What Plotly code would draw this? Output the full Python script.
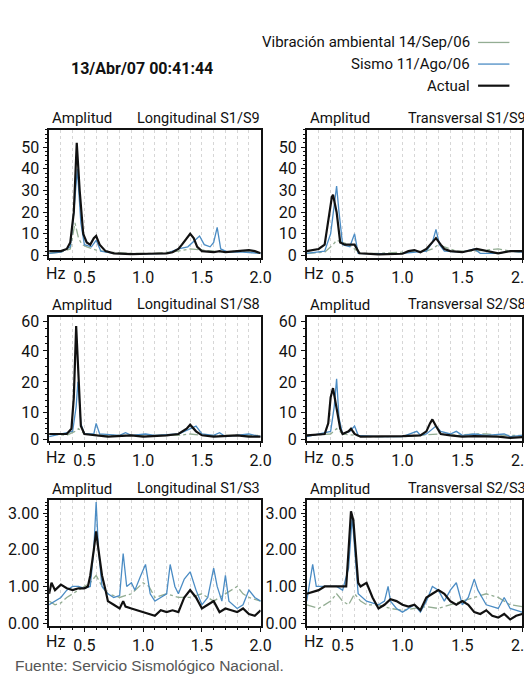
import numpy as np
import plotly.graph_objects as go

W, H = 532, 685

# ---------------- data (frequency Hz, amplitude) ----------------
# Panel: Longitudinal S1/S9
l19_amb_f = [0.20, 0.30, 0.38, 0.42, 0.45, 0.48, 0.52, 0.60, 0.70, 0.90, 1.10, 1.30, 1.40, 1.48, 1.60, 1.70, 1.80, 1.90, 2.00]
l19_amb_a = [1.0, 1.5, 3.0, 15.0, 8.0, 5.0, 4.0, 2.5, 1.5, 1.0, 1.0, 2.0, 3.0, 2.5, 2.0, 1.5, 2.0, 1.5, 1.0]
l19_sis_f = [0.20, 0.30, 0.38, 0.41, 0.44, 0.47, 0.50, 0.56, 0.60, 0.64, 0.75, 1.00, 1.20, 1.30, 1.38, 1.44, 1.48, 1.52, 1.57, 1.60, 1.63, 1.66, 1.72, 1.85, 2.00]
l19_sis_a = [1.0, 1.5, 4.0, 20.0, 40.0, 15.0, 5.0, 4.0, 7.0, 2.0, 1.0, 0.8, 1.0, 3.0, 4.0, 7.0, 9.0, 5.0, 4.0, 6.0, 13.0, 3.0, 1.5, 1.5, 1.0]
l19_act_f = [0.20, 0.30, 0.35, 0.38, 0.41, 0.435, 0.46, 0.49, 0.52, 0.55, 0.58, 0.60, 0.63, 0.68, 0.75, 0.90, 1.05, 1.20, 1.25, 1.30, 1.33, 1.37, 1.40, 1.43, 1.46, 1.50, 1.60, 1.65, 1.70, 1.80, 1.90, 1.95, 2.00]
l19_act_a = [2.0, 2.0, 3.0, 6.0, 20.0, 52.0, 30.0, 10.0, 6.0, 5.0, 8.0, 9.0, 5.0, 2.0, 1.0, 0.6, 0.8, 1.0, 1.5, 3.0, 5.0, 8.0, 10.0, 8.0, 4.0, 2.0, 1.5, 2.0, 1.5, 2.0, 2.5, 2.0, 1.0]

# Panel: Transversal S1/S9
t19_amb_f = [0.20, 0.35, 0.42, 0.45, 0.50, 0.55, 0.65, 0.80, 1.00, 1.20, 1.25, 1.30, 1.35, 1.45, 1.60, 1.80, 1.90, 2.00]
t19_amb_a = [1.0, 1.5, 5.0, 7.0, 6.0, 5.0, 1.0, 1.0, 1.5, 2.0, 3.0, 5.0, 4.0, 2.0, 2.0, 3.0, 2.0, 1.5]
t19_sis_f = [0.20, 0.35, 0.40, 0.43, 0.45, 0.47, 0.50, 0.56, 0.60, 0.63, 0.80, 1.00, 1.20, 1.25, 1.28, 1.31, 1.35, 1.50, 1.60, 1.65, 1.80, 1.90, 2.00]
t19_sis_a = [1.0, 2.0, 10.0, 25.0, 32.0, 20.0, 5.0, 4.0, 10.0, 1.0, 0.8, 1.0, 2.0, 6.0, 12.0, 5.0, 2.0, 1.5, 3.0, 1.0, 1.0, 2.0, 1.5]
t19_act_f = [0.20, 0.30, 0.35, 0.38, 0.41, 0.42, 0.45, 0.48, 0.52, 0.58, 0.60, 0.64, 0.80, 1.00, 1.05, 1.10, 1.15, 1.20, 1.25, 1.28, 1.32, 1.35, 1.40, 1.50, 1.62, 1.70, 1.80, 1.90, 2.00]
t19_act_a = [2.0, 3.0, 5.0, 15.0, 27.0, 28.0, 20.0, 6.0, 5.0, 5.0, 5.0, 1.0, 0.5, 0.8, 2.0, 2.5, 1.5, 3.0, 6.0, 8.0, 5.0, 3.0, 2.0, 1.5, 3.0, 2.0, 1.0, 2.0, 2.0]

# Panel: Longitudinal S1/S8
l18_amb_f = [0.20, 0.35, 0.42, 0.45, 0.50, 0.70, 0.90, 1.10, 1.30, 1.40, 1.50, 1.70, 1.90, 2.00]
l18_amb_a = [2.0, 1.5, 3.0, 4.0, 2.0, 1.5, 1.5, 1.5, 1.5, 2.0, 1.5, 1.5, 1.5, 1.5]
l18_sis_f = [0.20, 0.40, 0.43, 0.445, 0.47, 0.50, 0.58, 0.60, 0.63, 0.80, 0.85, 0.90, 1.02, 1.10, 1.30, 1.40, 1.45, 1.50, 1.60, 1.65, 1.70, 1.90, 2.00]
l18_sis_a = [1.0, 3.0, 12.0, 20.0, 6.0, 2.0, 2.0, 6.0, 2.0, 1.5, 2.5, 1.5, 2.0, 1.5, 2.0, 4.0, 5.0, 2.0, 1.5, 2.5, 1.0, 2.0, 1.0]
l18_act_f = [0.20, 0.35, 0.39, 0.41, 0.43, 0.45, 0.47, 0.50, 0.60, 0.70, 0.90, 1.00, 1.20, 1.30, 1.37, 1.40, 1.45, 1.50, 1.60, 1.80, 1.90, 2.00]
l18_act_a = [2.0, 2.0, 4.0, 15.0, 57.0, 25.0, 5.0, 2.0, 1.5, 1.0, 1.5, 1.0, 1.5, 2.0, 4.0, 5.5, 3.0, 1.5, 1.0, 1.5, 1.0, 1.0]

# Panel: Transversal S2/S8
t28_amb_f = [0.20, 0.40, 0.45, 0.50, 0.70, 1.00, 1.30, 1.45, 1.60, 1.70, 1.85, 2.00]
t28_amb_a = [1.5, 2.0, 4.0, 2.0, 1.0, 1.0, 2.0, 1.5, 2.0, 2.0, 1.5, 1.5]
t28_sis_f = [0.20, 0.40, 0.43, 0.45, 0.47, 0.50, 0.56, 0.60, 0.63, 0.80, 1.00, 1.12, 1.15, 1.20, 1.28, 1.32, 1.40, 1.45, 1.50, 1.60, 1.70, 1.85, 1.90, 2.00]
t28_sis_a = [1.0, 3.0, 12.0, 22.0, 8.0, 2.0, 3.0, 5.0, 1.5, 1.0, 1.0, 3.0, 1.5, 2.0, 5.0, 3.0, 2.0, 3.0, 1.5, 2.0, 1.5, 2.0, 1.0, 1.5]
t28_act_f = [0.20, 0.35, 0.38, 0.40, 0.42, 0.45, 0.48, 0.50, 0.55, 0.57, 0.60, 0.65, 0.80, 1.00, 1.15, 1.20, 1.23, 1.25, 1.28, 1.32, 1.40, 1.50, 1.60, 1.80, 1.90, 2.00]
t28_act_a = [1.5, 2.0, 6.0, 15.0, 18.0, 12.0, 4.0, 2.0, 3.0, 4.0, 2.0, 1.0, 1.0, 1.2, 1.5, 3.0, 6.0, 7.5, 5.0, 2.0, 1.5, 1.0, 1.2, 1.0, 0.5, 0.8]

# Panel: Longitudinal S1/S3
l13_amb_f = [0.20, 0.25, 0.30, 0.35, 0.40, 0.45, 0.50, 0.55, 0.60, 0.65, 0.70, 0.80, 0.90, 1.00, 1.05, 1.10, 1.20, 1.30, 1.40, 1.50, 1.60, 1.70, 1.80, 1.85, 1.90, 2.00]
l13_amb_a = [0.6, 0.5, 0.55, 0.7, 0.8, 0.9, 1.0, 1.1, 1.3, 1.0, 0.8, 0.7, 0.8, 1.1, 1.0, 0.7, 0.8, 0.7, 0.7, 0.8, 0.6, 0.8, 1.0, 0.8, 0.7, 0.6]
l13_sis_f = [0.20, 0.25, 0.30, 0.35, 0.40, 0.45, 0.50, 0.55, 0.58, 0.60, 0.62, 0.65, 0.70, 0.75, 0.80, 0.83, 0.86, 0.90, 0.93, 0.98, 1.02, 1.06, 1.10, 1.15, 1.20, 1.23, 1.27, 1.30, 1.35, 1.40, 1.45, 1.50, 1.55, 1.60, 1.63, 1.67, 1.70, 1.73, 1.80, 1.85, 1.90, 1.95, 2.00]
l13_sis_a = [0.5, 0.6, 0.7, 0.9, 1.0, 1.0, 0.95, 1.0, 2.0, 3.3, 2.0, 1.0, 0.8, 0.7, 0.75, 1.9, 1.0, 1.1, 0.9, 1.3, 1.6, 0.8, 0.6, 0.7, 0.8, 1.6, 1.0, 0.8, 1.2, 1.4, 0.9, 0.5, 0.7, 1.5, 1.0, 0.6, 1.3, 0.6, 0.4, 0.5, 0.9, 0.7, 0.6]
l13_act_f = [0.20, 0.22, 0.25, 0.28, 0.30, 0.35, 0.40, 0.45, 0.50, 0.53, 0.55, 0.58, 0.60, 0.62, 0.65, 0.68, 0.70, 0.75, 0.80, 0.83, 0.85, 0.90, 0.95, 1.00, 1.05, 1.10, 1.15, 1.20, 1.25, 1.30, 1.35, 1.40, 1.45, 1.50, 1.55, 1.60, 1.65, 1.70, 1.75, 1.80, 1.85, 1.90, 1.95, 2.00]
l13_act_a = [0.8, 1.1, 0.9, 1.0, 1.05, 0.95, 0.9, 0.95, 0.95, 1.0, 1.3, 2.0, 2.5, 2.0, 1.3, 0.9, 0.6, 0.5, 0.4, 0.6, 0.45, 0.4, 0.35, 0.3, 0.25, 0.2, 0.35, 0.3, 0.35, 0.3, 0.7, 0.9, 0.7, 0.4, 0.5, 0.6, 0.3, 0.4, 0.35, 0.3, 0.4, 0.25, 0.2, 0.35]

# Panel: Transversal S2/S3
t23_amb_f = [0.20, 0.30, 0.40, 0.45, 0.50, 0.55, 0.60, 0.65, 0.70, 0.80, 0.90, 1.00, 1.10, 1.20, 1.30, 1.40, 1.50, 1.60, 1.70, 1.80, 1.90, 2.00]
t23_amb_a = [0.5, 0.4, 0.6, 0.8, 0.6, 0.5, 0.8, 0.6, 0.5, 0.5, 0.4, 0.35, 0.4, 0.45, 0.4, 0.5, 0.6, 0.7, 0.8, 0.7, 0.5, 0.45]
t23_sis_f = [0.20, 0.25, 0.28, 0.35, 0.45, 0.50, 0.55, 0.58, 0.60, 0.63, 0.70, 0.80, 0.85, 0.88, 0.90, 0.95, 1.00, 1.05, 1.10, 1.15, 1.20, 1.25, 1.30, 1.35, 1.40, 1.45, 1.50, 1.55, 1.60, 1.63, 1.70, 1.80, 1.85, 1.90, 2.00]
t23_sis_a = [0.6, 1.6, 1.0, 1.0, 1.0, 0.9, 1.5, 2.9, 2.0, 0.8, 0.6, 0.5, 0.6, 1.0, 0.6, 0.4, 0.3, 0.4, 0.5, 0.3, 0.6, 1.0, 0.9, 0.6, 0.9, 1.1, 0.5, 0.7, 1.2, 0.9, 0.5, 0.4, 0.7, 0.4, 0.3]
t23_act_f = [0.20, 0.25, 0.30, 0.35, 0.40, 0.45, 0.50, 0.53, 0.55, 0.57, 0.59, 0.61, 0.63, 0.65, 0.70, 0.75, 0.80, 0.85, 0.90, 0.95, 1.00, 1.05, 1.10, 1.15, 1.20, 1.25, 1.30, 1.35, 1.40, 1.45, 1.50, 1.55, 1.60, 1.65, 1.70, 1.75, 1.80, 1.85, 1.90, 1.95, 2.00]
t23_act_a = [0.8, 0.85, 0.9, 1.0, 1.0, 1.0, 1.0, 1.0, 2.0, 3.05, 2.8, 1.8, 1.1, 1.0, 1.1, 0.7, 0.4, 0.5, 0.65, 0.6, 0.5, 0.45, 0.5, 0.35, 0.7, 0.8, 0.9, 0.8, 0.6, 0.5, 0.6, 0.5, 0.3, 0.25, 0.35, 0.2, 0.15, 0.25, 0.1, 0.2, 0.25]

panel_titles = ["Longitudinal S1/S9", "Transversal S1/S9",
                "Longitudinal S1/S8", "Transversal S2/S8",
                "Longitudinal S1/S3", "Transversal S2/S3"]
series_names = ["Vibración ambiental 14/Sep/06", "Sismo 11/Ago/06", "Actual"]
x_ticks = [0.5, 1.0, 1.5, 2.0]
x_ticktext = ["0.5", "1.0", "1.5", "2.0"]
y_ticks_top = [0, 10, 20, 30, 40, 50]
y_ticks_mid = [0, 10, 20, 40, 60]
y_ticks_bot = [0.0, 1.0, 2.0, 3.0]
y_ticktext_bot = ["0.00", "1.00", "2.00", "3.00"]

# middle row uses a stretched (non-linear) amplitude scale
mid_scale_vals = [0, 10, 20, 40, 60, 80]
mid_scale_pos = [0, 0.9, 1.95, 3.0, 4.0, 5.0]
def mid_scale(v):
    return np.interp(v, mid_scale_vals, mid_scale_pos)

panels = [
    (l19_amb_f, l19_amb_a, l19_sis_f, l19_sis_a, l19_act_f, l19_act_a),
    (t19_amb_f, t19_amb_a, t19_sis_f, t19_sis_a, t19_act_f, t19_act_a),
    (l18_amb_f, l18_amb_a, l18_sis_f, l18_sis_a, l18_act_f, l18_act_a),
    (t28_amb_f, t28_amb_a, t28_sis_f, t28_sis_a, t28_act_f, t28_act_a),
    (l13_amb_f, l13_amb_a, l13_sis_f, l13_sis_a, l13_act_f, l13_act_a),
    (t23_amb_f, t23_amb_a, t23_sis_f, t23_sis_a, t23_act_f, t23_act_a),
]

# ---------------- layout helpers ----------------
def px(x):
    return x / W
def py(y):
    return 1 - y / H

NARROW = "Roboto, Liberation Sans, Arial, sans-serif"
REG = "Liberation Sans, Arial, Helvetica, sans-serif"

col_px = [(42, 258), (305, 525)]
row_px = [(120, 250), (310, 437), (497, 625)]

C_AMB = "#93ad93"
C_SIS = "#4b8cc4"
C_ACT = "#111111"
C_GRID = "#d6d6d6"

fig = go.Figure()
layout = dict(
    width=W, height=H, margin=dict(l=0, r=0, t=0, b=0),
    paper_bgcolor="white", plot_bgcolor="white", showlegend=False,
    font=dict(family=NARROW, size=15, color="#111"),
)

annotations = []
shapes = []
TICKFONT = dict(family=NARROW, size=16, color="#111")

for i, (af, aa, sf, sa, cf, ca) in enumerate(panels):
    r, c = divmod(i, 2)
    k = i + 1
    xa = "x" if k == 1 else f"x{k}"
    ya = "y" if k == 1 else f"y{k}"
    if r == 1:
        aa_p, sa_p, ca_p = mid_scale(aa), mid_scale(sa), mid_scale(ca)
    else:
        aa_p, sa_p, ca_p = aa, sa, ca
    fig.add_trace(go.Scatter(x=af, y=aa_p, xaxis=xa, yaxis=ya, mode="lines",
                             line=dict(color=C_AMB, width=1.3, dash="dashdot"),
                             name=series_names[0]))
    fig.add_trace(go.Scatter(x=sf, y=sa_p, xaxis=xa, yaxis=ya, mode="lines",
                             line=dict(color=C_SIS, width=1.3),
                             name=series_names[1]))
    fig.add_trace(go.Scatter(x=cf, y=ca_p, xaxis=xa, yaxis=ya, mode="lines",
                             line=dict(color=C_ACT, width=2.2),
                             name=series_names[2]))

    x0, x1 = col_px[c]
    y0, y1 = row_px[r]
    xkey = "xaxis" if k == 1 else f"xaxis{k}"
    ykey = "yaxis" if k == 1 else f"yaxis{k}"
    layout[xkey] = dict(
        domain=[px(x0), px(x1)], anchor=ya, range=[0.2, 2.0],
        tickvals=x_ticks, ticktext=x_ticktext, ticks="outside", ticklen=4,
        tickwidth=1, tickcolor="#111",
        showline=True, linecolor="#111", linewidth=1.6, mirror=True,
        showgrid=True, gridcolor=C_GRID, griddash="dot", gridwidth=1,
        minor=dict(dtick=0.1, tick0=0, showgrid=True, gridcolor=C_GRID,
                   griddash="dot", ticks="outside", ticklen=2, tickcolor="#111"),
        zeroline=False, tickfont=TICKFONT, fixedrange=True,
    )
    if r == 0:
        yd = dict(range=[-1, 58], tickvals=y_ticks_top,
                  ticktext=[str(v) for v in y_ticks_top],
                  minor=dict(dtick=2, ticks="outside", ticklen=2, tickcolor="#111"))
    elif r == 1:
        yd = dict(range=[-0.07, 4.17], tickvals=list(mid_scale(y_ticks_mid)),
                  ticktext=[str(v) for v in y_ticks_mid],
                  minor=dict(tickvals=list(mid_scale([2, 4, 6, 8, 12, 14, 16, 18, 25, 30, 35, 45, 50, 55])),
                             ticks="outside", ticklen=2, tickcolor="#111"))
    else:
        yd = dict(range=[-0.08, 3.35], tickvals=y_ticks_bot, ticktext=y_ticktext_bot,
                  minor=dict(dtick=0.1, ticks="outside", ticklen=2, tickcolor="#111"))
    yd.update(domain=[py(y1), py(y0)], anchor=xa, ticks="outside", ticklen=4,
              tickcolor="#111", showline=True, linecolor="#111", linewidth=1.6,
              mirror=True, showgrid=False, zeroline=False, ticklabelstandoff=1,
              tickfont=TICKFONT, fixedrange=True)
    layout[ykey] = yd

    # panel labels
    annotations.append(dict(text="Amplitud", x=px(x0 + 1), y=py(y0 - 12), xref="paper", yref="paper",
                            xanchor="left", yanchor="middle", showarrow=False,
                            font=dict(family=NARROW, size=15, color="#111")))
    annotations.append(dict(text=panel_titles[i], x=px(259 if c == 0 else 531), y=py(y0 - 12),
                            xref="paper", yref="paper", xanchor="right", yanchor="middle",
                            showarrow=False, font=dict(family=NARROW, size=14.5, color="#111")))
    annotations.append(dict(text="Hz", x=px(x0 + 7), y=py(y1 + 16), xref="paper", yref="paper",
                            xanchor="center", yanchor="middle", showarrow=False,
                            font=TICKFONT))

# header
annotations.append(dict(text="<b>13/Abr/07 00:41:44</b>", x=px(62), y=py(58), xref="paper", yref="paper",
                        xanchor="left", yanchor="middle", showarrow=False,
                        font=dict(family=NARROW, size=16, color="#111")))
leg_y = [31, 53, 75]
leg_col = [C_AMB, C_SIS, C_ACT]
leg_w = [1.3, 1.3, 2.2]
for name, yy, col, lw in zip(series_names, leg_y, leg_col, leg_w):
    annotations.append(dict(text=name, x=px(474), y=py(yy), xref="paper", yref="paper",
                            xanchor="right", yanchor="middle", showarrow=False,
                            font=dict(family=NARROW, size=15, color="#111")))
    shapes.append(dict(type="line", xref="paper", yref="paper", x0=px(480), x1=px(512),
                       y0=py(yy), y1=py(yy), line=dict(color=col, width=lw)))

annotations.append(dict(text="Fuente: Servicio Sismológico Nacional.", x=px(5), y=py(665),
                        xref="paper", yref="paper", xanchor="left", yanchor="middle",
                        showarrow=False, font=dict(family=REG, size=15.5, color="#555")))

layout["annotations"] = annotations
layout["shapes"] = shapes
fig.update_layout(**layout)
fig.write_html("out.html")
